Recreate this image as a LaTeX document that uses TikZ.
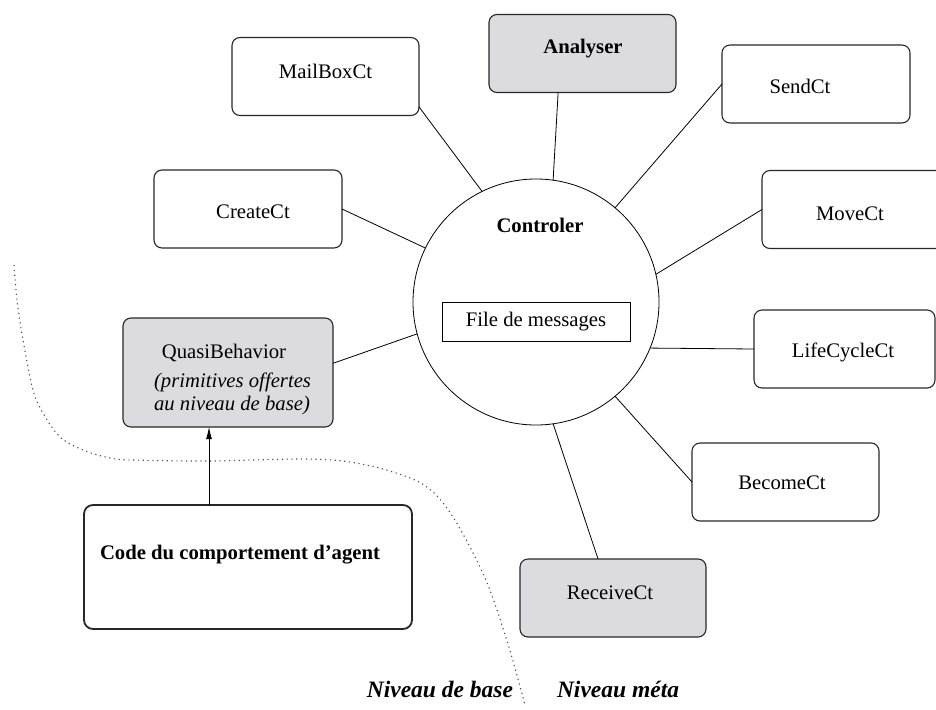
\documentclass[tikz,border=0pt]{standalone}
\usepackage{fontspec}
\setmainfont{Liberation Serif}
\usetikzlibrary{arrows.meta}
\definecolor{panelgray}{RGB}{220,219,223}
\definecolor{edgegray}{RGB}{40,40,40}
\definecolor{dotgray}{RGB}{80,80,80}
\begin{document}
\begin{tikzpicture}[x=1pt,y=-1pt,
  every node/.style={font=\fontsize{20.7}{24}\selectfont, inner sep=0pt, outer sep=0pt},
  ctbox/.style={draw=edgegray, line width=1.1pt, rounded corners=8pt,
                minimum width=#1, minimum height=78pt},
  ctbox/.default=188pt,
  greybox/.style={ctbox=#1, fill=panelgray},
  greybox/.default=188pt,
  txt/.style={anchor=base},
  levelfont/.style={font=\fontsize{23.5}{26}\selectfont\bfseries\itshape},
  wire/.style={line width=0.8pt, draw=black}]

\useasboundingbox (0,0) rectangle (936,709);
\clip (0,0) rectangle (936,709);

% border between base level and meta level
\draw[dotgray, line width=1.1pt, dash pattern=on 1.2pt off 3.6pt]
  plot[smooth, tension=0.55] coordinates {
    (14,265) (17,300) (23,340) (33,390) (43,413) (60,437) (83,450)
    (110,458) (133,460) (210,461) (303,459) (350,462) (393,472)
    (427,487) (453,517) (485,578) (508,644) (525,705)};

% controller with its message queue
\node[circle, draw, line width=0.8pt, minimum size=246pt] (ctrl) at (536,302) {};
\node[txt] (ctrltxt) at (540,232) {\bfseries Controler};
\node[draw, line width=0.9pt, minimum width=188pt, minimum height=39pt]
  (queue) at (536,321.5) {File de messages};

% surrounding components
\node[ctbox=187pt] (mail) at (325.5,76.5) {};
\node[greybox=187pt] (analyser) at (582.5,53.5) {};
\node[ctbox] (send) at (816,84) {};
\node[ctbox] (create) at (248,209) {};
\node[ctbox] (move) at (856,209.5) {};
\node[ctbox=181pt] (life) at (844.5,349) {};
\node[ctbox=187pt] (become) at (785.5,482) {};
\node[greybox=186pt] (receive) at (613,598) {};
\node[greybox=210pt, minimum height=109pt] (quasi) at (228,372.5) {};
\node[draw=edgegray, line width=1.8pt, rounded corners=9pt,
      minimum width=328pt, minimum height=124pt] (code) at (248,567) {};

% component labels
\node[txt] (mailtxt) at (325.5,78.5) {MailBoxCt};
\node[txt] (analysertxt) at (583,53) {\bfseries Analyser};
\node[txt] (sendtxt) at (800,93) {SendCt};
\node[txt] (createtxt) at (253,218) {CreateCt};
\node[txt] (movetxt) at (850,220) {MoveCt};
\node[txt] (lifetxt) at (843,357) {LifeCycleCt};
\node[txt] (becometxt) at (782,489) {BecomeCt};
\node[txt] (receivetxt) at (610,599) {ReceiveCt};
\node[txt] (quasitxt) at (224,358) {QuasiBehavior};
\node[txt] (quasinote1) at (232.5,387) {\itshape (primitives offertes};
\node[txt] (quasinote2) at (232,410) {\itshape au niveau de base)};
\node[anchor=base west] (codetxt) at (100,559) {\bfseries Code du comportement d'agent};

% level names
\node[levelfont, anchor=base east] (baselevel) at (513,697) {Niveau de base};
\node[levelfont, anchor=base west] (metalevel) at (557,697) {Niveau méta};

% links to the controller
\draw[wire] (mail.-18.6) -- (ctrl.116.2);
\draw[wire] (analyser.238.6) -- (ctrl.82.6);
\draw[wire] (send.west) -- (ctrl.50);
\draw[wire] (create.east) -- (ctrl.154.6);
\draw[wire] (move.west) -- (ctrl.13.9);
\draw[wire] (quasi.5.2) -- (ctrl.195.2);
\draw[wire] (life.west) -- (ctrl.-22.5);
\draw[wire] (become.west) -- (ctrl.-50.3);
\draw[wire] (receive.111) -- (ctrl.-82.7);

% agent code uses the base-level primitives
\coordinate (lift) at (209,0);
\draw[line width=0.8pt, -{Latex[length=12pt,width=6pt]}]
  (code.north -| lift) -- (quasi.south -| lift);
\end{tikzpicture}
\end{document}
